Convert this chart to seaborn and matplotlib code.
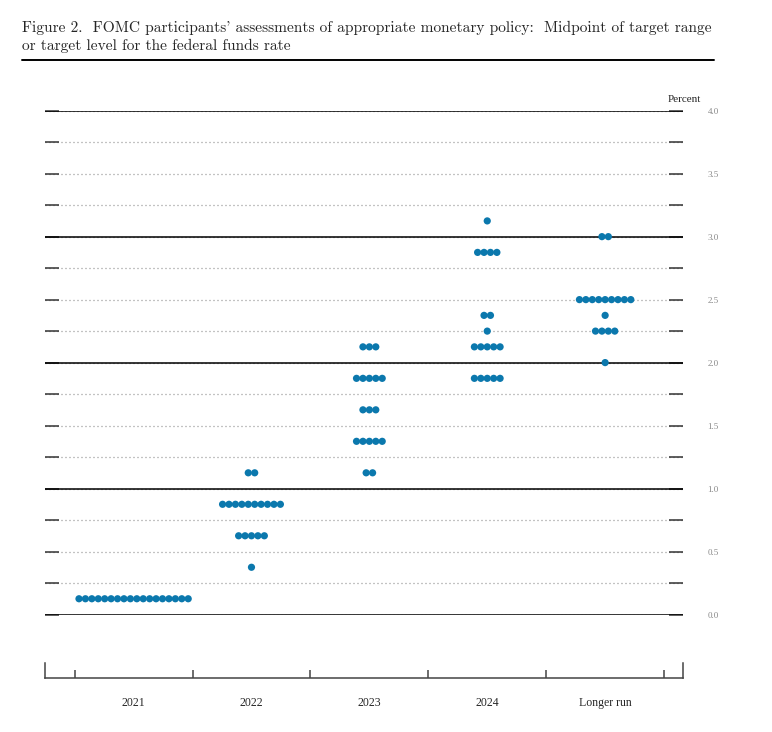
import seaborn as sns
import matplotlib.pyplot as plt
import matplotlib.ticker as mticker
from matplotlib.lines import Line2D
import pandas as pd

years = ['2021', '2022', '2023', '2024', 'Longer run']

# midpoint levels and number of participants at each level
levels_2021 = [0.125]
counts_2021 = [18]
levels_2022 = [0.375, 0.625, 0.875, 1.125]
counts_2022 = [1, 5, 10, 2]
levels_2023 = [1.125, 1.375, 1.625, 1.875, 2.125]
counts_2023 = [2, 5, 3, 5, 3]
levels_2024 = [1.875, 2.125, 2.25, 2.375, 2.875, 3.125]
counts_2024 = [5, 5, 1, 2, 4, 1]
levels_lr = [2.0, 2.25, 2.375, 2.5, 3.0]
counts_lr = [1, 4, 1, 9, 2]

all_levels = [levels_2021, levels_2022, levels_2023, levels_2024, levels_lr]
all_counts = [counts_2021, counts_2022, counts_2023, counts_2024, counts_lr]

dot_step = 0.0545  # horizontal spacing of dots, in category units

rows = []
for i, (lv, cn) in enumerate(zip(all_levels, all_counts)):
    for v, n in zip(lv, cn):
        for j in range(n):
            rows.append({'year': years[i], 'x': i + (j - (n - 1) / 2) * dot_step, 'rate': v})
df = pd.DataFrame(rows)

sns.set_style('white')
plt.rcParams['font.family'] = ['Liberation Serif', 'DejaVu Serif']

W, H = 772, 732
fig = plt.figure(figsize=(W / 100, H / 100), dpi=100)

x0, x1 = 45.3, 682.7
y_top, y_bot = 110.7, 614.5
ax = fig.add_axes([x0 / W, 1 - y_bot / H, (x1 - x0) / W, (y_bot - y_top) / H])

xlim = (-0.749, 4.658)
ax.set_xlim(*xlim)
ax.set_ylim(0, 4)

# grid: dotted quarter lines, solid integer lines
ax.yaxis.set_major_locator(mticker.MultipleLocator(0.5))
ax.yaxis.set_minor_locator(mticker.MultipleLocator(0.25))
ax.grid(which='both', axis='y', linestyle=(0, (0.8, 2.4)), color='#888888', lw=0.9)
ax.grid(False, axis='x')
for v in range(0, 5):
    ax.axhline(v, color='black', lw=1.1, zorder=1.5)

sns.scatterplot(data=df, x='x', y='rate', ax=ax, s=27, color='#0b78ad',
                edgecolor='none', linewidth=0, zorder=3, legend=False)

for sp in ax.spines.values():
    sp.set_visible(False)
ax.set_xticks([])
ax.set_xlabel('')
ax.set_ylabel('')
ax.yaxis.tick_right()
ax.tick_params(axis='y', which='both', direction='in', left=True, right=True,
               length=10, width=1.1, color='#333333')
ax.tick_params(axis='y', which='major', labelsize=6.5, labelcolor='#888888', pad=18)
ax.yaxis.set_major_formatter(mticker.FormatStrFormatter('%.1f'))

fig.text(701 / W, 1 - 100 / H, 'Percent', ha='right', va='center', fontsize=8)

# bottom category axis
axb = fig.add_axes([x0 / W, 1 - 677.7 / H, (x1 - x0) / W, 15 / H])
axb.set_xlim(*xlim)
axb.set_ylim(0, 1)
axb.set_yticks([])
axb.spines['top'].set_visible(False)
for side in ['left', 'right', 'bottom']:
    axb.spines[side].set_color('#444444')
    axb.spines[side].set_linewidth(1.1)
axb.set_xticks(range(len(years)))
axb.set_xticklabels(years, fontsize=8.5)
axb.set_xticks([i - 0.5 for i in range(len(years) + 1)], minor=True)
axb.tick_params(axis='x', which='major', bottom=True, length=0, pad=14)
axb.tick_params(axis='x', which='minor', bottom=True, direction='in', length=6,
                width=1.1, color='#444444')
axb.set_facecolor('none')

# title
fig.text(22 / W, 1 - 21 / H,
         "Figure 2.  FOMC participants' assessments of appropriate monetary policy:  Midpoint of target range\n"
         "or target level for the federal funds rate",
         ha='left', va='top', fontsize=11.1, family='cmr10', linespacing=1.3)
fig.add_artist(Line2D([22 / W, 714 / W], [1 - 60 / H, 1 - 60 / H], color='black', lw=1.4))

fig.savefig('out.png', dpi=100)
